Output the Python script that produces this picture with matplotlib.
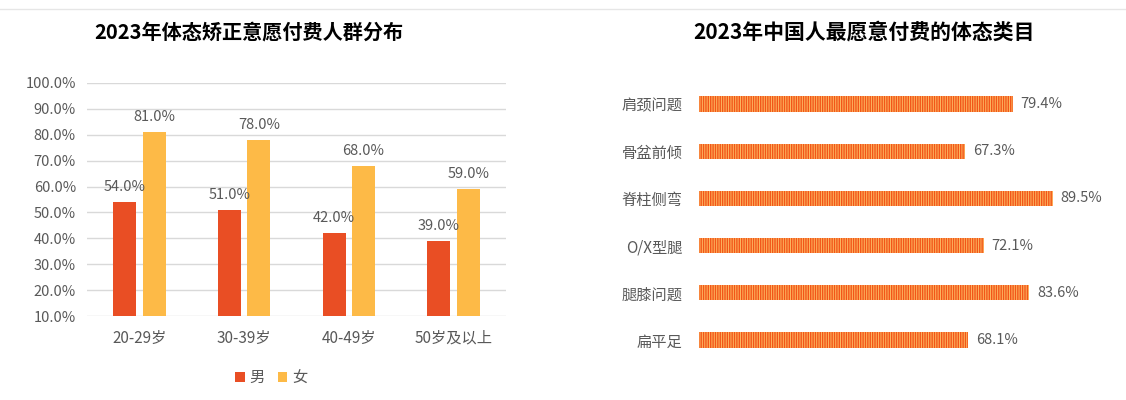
import matplotlib
matplotlib.use("Agg")
import matplotlib.pyplot as plt
from matplotlib.lines import Line2D
import numpy as np

plt.rcParams['font.family'] = ['Noto Sans CJK SC', 'DejaVu Sans']
plt.rcParams['hatch.linewidth'] = 1.0

# left chart data
age_groups = ["20-29岁", "30-39岁", "40-49岁", "50岁及以上"]
male = [54.0, 51.0, 42.0, 39.0]
female = [81.0, 78.0, 68.0, 59.0]
y_ticks = [10, 20, 30, 40, 50, 60, 70, 80, 90, 100]

# right chart data
categories = ["肩颈问题", "骨盆前倾", "脊柱侧弯", "O/X型腿", "腿膝问题", "扁平足"]
shares = [79.4, 67.3, 89.5, 72.1, 83.6, 68.1]

grey = "#595959"
c_male = "#E94E24"
c_female = "#FDBA47"

fig = plt.figure(figsize=(11.26, 4.0), dpi=100)
fig.add_artist(Line2D([0, 1], [0.977, 0.977], color="#e6e6e6", lw=1))

# ---- grouped column chart ----
ax = fig.add_axes([0.0773, 0.21, 0.372, 0.5825])
x = np.arange(len(age_groups))
w = 0.22
gap = 0.03
ax.bar(x - w / 2 - gap, [m - 10 for m in male], w, bottom=10, color=c_male, label="男", zorder=3)
ax.bar(x + w / 2 + gap, [f - 10 for f in female], w, bottom=10, color=c_female, label="女", zorder=3)
for i in range(len(age_groups)):
    ax.text(x[i] - w / 2 - gap, male[i] + 3.0, f"{male[i]:.1f}%", ha="center", va="bottom",
            fontsize=10.5, color=grey)
    ax.text(x[i] + w / 2 + gap, female[i] + 3.0, f"{female[i]:.1f}%", ha="center", va="bottom",
            fontsize=10.5, color=grey)
ax.set_ylim(10, 100)
ax.set_xlim(-0.5, 3.5)
ax.set_yticks(y_ticks)
ax.set_yticklabels([f"{t:.1f}%" for t in y_ticks])
ax.set_xticks(x)
ax.set_xticklabels(age_groups)
ax.tick_params(axis="y", length=0, labelsize=10.5, labelcolor=grey, pad=8)
ax.tick_params(axis="x", length=0, labelsize=11, labelcolor=grey, pad=10)
ax.grid(axis="y", color="#d9d9d9", lw=1, zorder=0)
for s in ax.spines.values():
    s.set_visible(False)
ax.legend(loc="upper center", bbox_to_anchor=(0.44, -0.17), ncol=2, frameon=False,
          fontsize=11, handlelength=0.6, handleheight=0.6, handletextpad=0.3,
          columnspacing=0.9, labelcolor=grey)
fig.text(0.221, 0.92, "2023年体态矫正意愿付费人群分布", ha="center", va="center",
         fontsize=14.5, fontweight="bold", color="black")

# ---- horizontal hatched bars ----
ax2 = fig.add_axes([0.6208, 0.091, 0.3508, 0.708])
y = np.arange(len(categories))
ax2.barh(y, shares, height=0.32, color="#FDB862", edgecolor="#F25519", linewidth=0,
         hatch="|||||||")
for i, v in enumerate(shares):
    ax2.text(v + 2.0, y[i], f"{v:.1f}%", ha="left", va="center", fontsize=10.5, color=grey)
ax2.set_xlim(0, 100)
ax2.set_ylim(len(categories) - 0.5, -0.5)
ax2.set_yticks(y)
ax2.set_yticklabels(categories)
ax2.set_xticks([])
ax2.tick_params(axis="y", length=0, labelsize=11, labelcolor=grey, pad=12)
for s in ax2.spines.values():
    s.set_visible(False)
fig.text(0.767, 0.92, "2023年中国人最愿意付费的体态类目", ha="center", va="center",
         fontsize=15, fontweight="bold", color="black")

fig.savefig("out.png", dpi=100)
